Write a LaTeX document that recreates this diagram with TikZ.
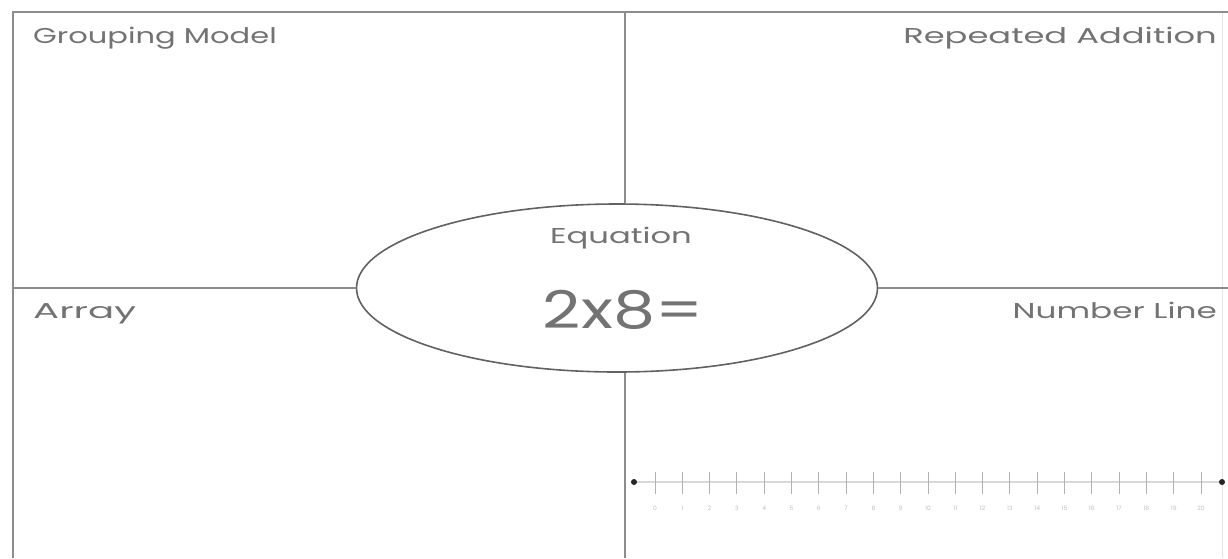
\documentclass[tikz,border=0pt]{standalone}
\usepackage{fontspec}
\setmainfont{Poppins}
\usetikzlibrary{shapes.geometric,positioning,calc}
\newcommand{\widetext}[2][1.5]{\scalebox{#1}[1]{#2}}

\begin{document}
\begin{tikzpicture}[x=1pt,y=-1pt,
  divider/.style={draw=black!45,line width=2.6pt},
  caption/.style={text=black!55,font=\fontsize{21.5}{24}\selectfont,inner sep=0pt},
  tick/.style={draw=black!30,line width=1pt}]
\useasboundingbox (0,0) rectangle (1228,558);
% frame corners and divider ends
\coordinate (tl) at (13,12);
\coordinate (tr) at (1228,12);
\coordinate (bl) at (13,558);
\coordinate (tm) at (625,12);
\coordinate (bm) at (625,558);
\coordinate (ml) at (13,288);
\coordinate (mr) at (1228,288);
\draw[draw=black!10,line width=1pt] (1222,12) -- (1222,558);
\draw[divider] (bl) -- (tl) -- (tr);
% centre ellipse
\node[ellipse,draw=black!62,line width=1.6pt,fill=white,
  minimum width=521pt,minimum height=168pt] (eq) at (617,288) {};
\draw[divider] (tm) -- (tm |- eq.north);
\draw[divider] (bm) -- (bm |- eq.south);
\draw[divider] (ml) -- (eq.west);
\draw[divider] (mr) -- (eq.east);
\node[caption,anchor=base] (eqname) at (621,243) {\widetext{Equation}};
\node[caption,anchor=base,font=\fontsize{52}{56}\selectfont] (eqtext) at (623,328) {\widetext[1.28]{2x8=}};
% corner captions
\node[caption,anchor=base west] (group) at (33,43) {\widetext[1.42]{Grouping Model}};
\node[caption,anchor=base east] (repeat) at (1217,43) {\widetext[1.57]{Repeated Addition}};
\node[caption,anchor=base west] (array) at (33,318) {\widetext[1.8]{Array}};
\node[caption,anchor=base east] (numline) at (1217,318) {\widetext[1.52]{Number Line}};
% number line
\coordinate (nlstart) at (634,482);
\coordinate (nlend) at (1222,482);
\draw[draw=black!15,line width=1.5pt] (nlstart) -- (nlend);
\fill[black!85] (nlstart) circle (3pt) (nlend) circle (3pt);
\foreach \i in {0,...,20}{
  \draw[tick] (655+27.3*\i,472) -- (655+27.3*\i,494);
  \node[text=black!25,font=\fontsize{6}{7}\selectfont,inner sep=0pt] (n\i) at (655+27.3*\i,508) {\i};
}
\end{tikzpicture}
\end{document}
